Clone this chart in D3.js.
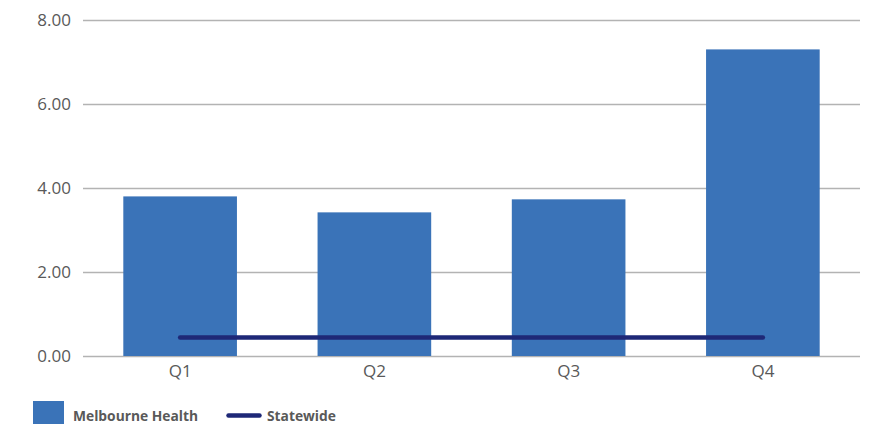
<!DOCTYPE html>
<html>
<head>
<meta charset="utf-8">
<script src="https://cdn.jsdelivr.net/npm/d3@7"></script>
<style>
  html, body { margin: 0; padding: 0; background: #fff; }
  svg { display: block; font-family: "Open Sans", "Noto Sans", sans-serif; }
</style>
</head>
<body>
<svg id="chart" width="877" height="427"></svg>
<script>
// Quarterly rates: Melbourne Health (bars) vs the statewide figure (line)
const quarters = ["Q1", "Q2", "Q3", "Q4"];
const melbourneHealth = [3.80, 3.42, 3.73, 7.30];
const statewide = [0.44, 0.44, 0.44, 0.44];
const yTicks = [0, 2, 4, 6, 8];

const barColor = "#3a73b8";
const lineColor = "#1e2877";
const textColor = "#595959";
const gridColor = "#b3b3b3";
const fontFamily = '"Open Sans", "Noto Sans", sans-serif';

const svg = d3.select("#chart");
const margin = { left: 83, right: 17, top: 20, bottom: 71 };
const W = 877, H = 427;

const x = d3.scaleBand()
  .domain(quarters)
  .range([margin.left, W - margin.right])
  .paddingInner(0.415)
  .paddingOuter(0.2075);

const y = d3.scaleLinear()
  .domain([0, 8])
  .range([H - margin.bottom, margin.top]);

// Horizontal gridlines with value labels
const yAxis = d3.axisLeft(y)
  .tickValues(yTicks)
  .tickFormat(d3.format(".2f"))
  .tickSize(-(W - margin.left - margin.right))
  .tickPadding(12);

const gy = svg.append("g")
  .attr("transform", `translate(${margin.left},0)`)
  .call(yAxis)
  .attr("font-family", fontFamily)
  .attr("font-size", 17);
gy.select(".domain").remove();
gy.selectAll(".tick line").attr("stroke", gridColor).attr("stroke-width", 1.3);
gy.selectAll(".tick text").attr("fill", textColor);

// Bars
svg.append("g").selectAll("rect")
  .data(quarters)
  .join("rect")
  .attr("x", d => x(d))
  .attr("width", x.bandwidth())
  .attr("y", (d, i) => y(melbourneHealth[i]))
  .attr("height", (d, i) => y(0) - y(melbourneHealth[i]))
  .attr("fill", barColor);

// Category labels
const xAxis = d3.axisBottom(x).tickSize(0).tickPadding(9);
const gx = svg.append("g")
  .attr("transform", `translate(0,${y(0)})`)
  .call(xAxis)
  .attr("font-family", fontFamily)
  .attr("font-size", 17);
gx.select(".domain").remove();
gx.selectAll(".tick text").attr("fill", textColor);

// Statewide line
const line = d3.line()
  .x((d, i) => x(quarters[i]) + x.bandwidth() / 2)
  .y(d => y(d));

svg.append("path")
  .datum(statewide)
  .attr("d", line)
  .attr("fill", "none")
  .attr("stroke", lineColor)
  .attr("stroke-width", 4.5)
  .attr("stroke-linecap", "round");

// Legend
const legend = svg.append("g")
  .attr("font-family", fontFamily)
  .attr("font-size", 13.8)
  .attr("font-weight", 700);
legend.append("rect")
  .attr("x", 33).attr("y", 401).attr("width", 31).attr("height", 23)
  .attr("fill", barColor);
legend.append("text")
  .attr("x", 73).attr("y", 420.5)
  .attr("fill", textColor)
  .text("Melbourne Health");
legend.append("line")
  .attr("x1", 228.5).attr("x2", 259.5).attr("y1", 415.5).attr("y2", 415.5)
  .attr("stroke", lineColor).attr("stroke-width", 4.5)
  .attr("stroke-linecap", "round");
legend.append("text")
  .attr("x", 267).attr("y", 420.5)
  .attr("fill", textColor)
  .text("Statewide");
</script>
</body>
</html>
